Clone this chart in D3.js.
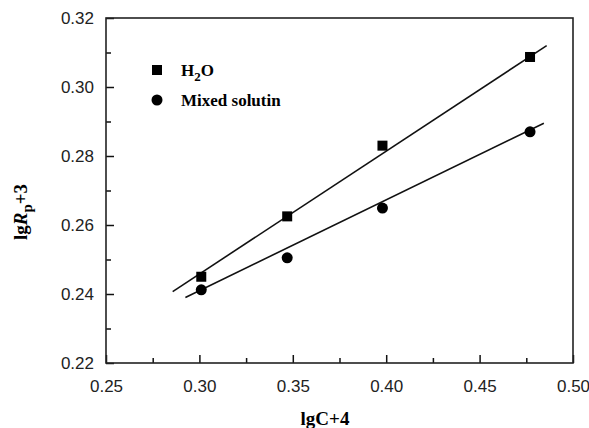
<!DOCTYPE html>
<html>
<head>
<meta charset="utf-8">
<script src="https://cdn.jsdelivr.net/npm/d3@7"></script>
<style>
  body { margin: 0; background: #fff; }
  svg { display: block; }
</style>
</head>
<body>
<svg id="chart"></svg>
<script>
// lgC+4 values
const xValues = [0.301, 0.347, 0.398, 0.477];
// lgRp+3 values
const h2oValues = [0.245, 0.2625, 0.283, 0.3087];
const mixedValues = [0.2412, 0.2505, 0.2649, 0.287];
// fitted lines, end points
const h2oFit = [[0.2857, 0.2407], [0.4859, 0.3120]];
const mixedFit = [[0.2925, 0.2390], [0.4844, 0.2895]];
const xTicks = [0.25, 0.30, 0.35, 0.40, 0.45, 0.50];
const yTicks = [0.22, 0.24, 0.26, 0.28, 0.30, 0.32];

const W = 589, H = 428;
const margin = { top: 18, right: 16, bottom: 65, left: 106 },
    width = W - margin.left - margin.right,
    height = H - margin.top - margin.bottom;

const svg = d3.select("#chart")
    .attr("width", W)
    .attr("height", H);

const g = svg.append("g")
    .attr("transform", `translate(${margin.left}, ${margin.top})`);

const x = d3.scaleLinear().domain([0.25, 0.50]).range([0, width]);
const y = d3.scaleLinear().domain([0.22, 0.32]).range([height, 0]);

// ticks, inward
const minorX = d3.range(0, xTicks.length - 1).map(i => (xTicks[i] + xTicks[i + 1]) / 2);
const minorY = d3.range(0, yTicks.length - 1).map(i => (yTicks[i] + yTicks[i + 1]) / 2);

const xAxis = g.append("g")
    .attr("transform", `translate(0, ${height})`)
    .call(d3.axisBottom(x).tickValues(xTicks).tickFormat(d3.format(".2f")).tickSize(-8).tickPadding(17));
const yAxis = g.append("g")
    .call(d3.axisLeft(y).tickValues(yTicks).tickFormat(d3.format(".2f")).tickSize(-8).tickPadding(12));

[xAxis, yAxis].forEach(a => {
    a.select(".domain").remove();
    a.selectAll("line").attr("stroke", "#111").attr("stroke-width", 1.5);
    a.selectAll("text")
        .style("font-family", "Liberation Sans, Arial, sans-serif")
        .style("font-size", "17px")
        .attr("fill", "#222");
});

g.append("g")
    .attr("transform", `translate(0, ${height})`)
    .call(d3.axisBottom(x).tickValues(minorX).tickFormat("").tickSize(-5))
    .call(a => a.select(".domain").remove())
    .selectAll("line").attr("stroke", "#111").attr("stroke-width", 1.5);
g.append("g")
    .call(d3.axisLeft(y).tickValues(minorY).tickFormat("").tickSize(-5))
    .call(a => a.select(".domain").remove())
    .selectAll("line").attr("stroke", "#111").attr("stroke-width", 1.5);

// frame
g.append("rect")
    .attr("width", width)
    .attr("height", height)
    .attr("fill", "none")
    .attr("stroke", "#222")
    .attr("stroke-width", 1.6);

// fit lines
const line = d3.line().x(d => x(d[0])).y(d => y(d[1]));
[h2oFit, mixedFit].forEach(f => {
    g.append("path")
        .attr("d", line(f))
        .attr("stroke", "#111").attr("stroke-width", 1.6).attr("fill", "none");
});

// markers
const sq = 10;
g.selectAll(".sq").data(xValues).enter().append("rect")
    .attr("x", d => x(d) - sq / 2)
    .attr("y", (d, i) => y(h2oValues[i]) - sq / 2)
    .attr("width", sq).attr("height", sq)
    .attr("fill", "#000");
g.selectAll(".ci").data(xValues).enter().append("circle")
    .attr("cx", d => x(d))
    .attr("cy", (d, i) => y(mixedValues[i]))
    .attr("r", 5.5)
    .attr("fill", "#000");

// legend
const serif = "Liberation Serif, Times New Roman, serif";
svg.append("rect").attr("x", 152).attr("y", 65).attr("width", 10).attr("height", 10).attr("fill", "#000");
svg.append("circle").attr("cx", 157).attr("cy", 100).attr("r", 5.5).attr("fill", "#000");

const t1 = svg.append("text")
    .attr("x", 181).attr("y", 76)
    .style("font-family", serif).style("font-size", "17px").style("font-weight", "bold");
t1.append("tspan").text("H");
t1.append("tspan").attr("dy", 5).style("font-size", "13px").text("2");
t1.append("tspan").attr("dy", -5).text("O");

svg.append("text")
    .attr("x", 181).attr("y", 106)
    .style("font-family", serif).style("font-size", "17px").style("font-weight", "bold")
    .text("Mixed solutin");

// axis titles
svg.append("text")
    .attr("x", 325).attr("y", 425)
    .attr("text-anchor", "middle")
    .style("font-family", serif).style("font-size", "19px").style("font-weight", "bold")
    .text("lgC+4");

const yt = svg.append("text")
    .attr("transform", "translate(27, 212) rotate(-90)")
    .attr("text-anchor", "middle")
    .style("font-family", serif).style("font-size", "19px").style("font-weight", "bold");
yt.append("tspan").text("lg");
yt.append("tspan").style("font-style", "italic").text("R");
yt.append("tspan").attr("dy", 5).style("font-size", "15px").text("p");
yt.append("tspan").attr("dy", -5).text("+3");
</script>
</body>
</html>
